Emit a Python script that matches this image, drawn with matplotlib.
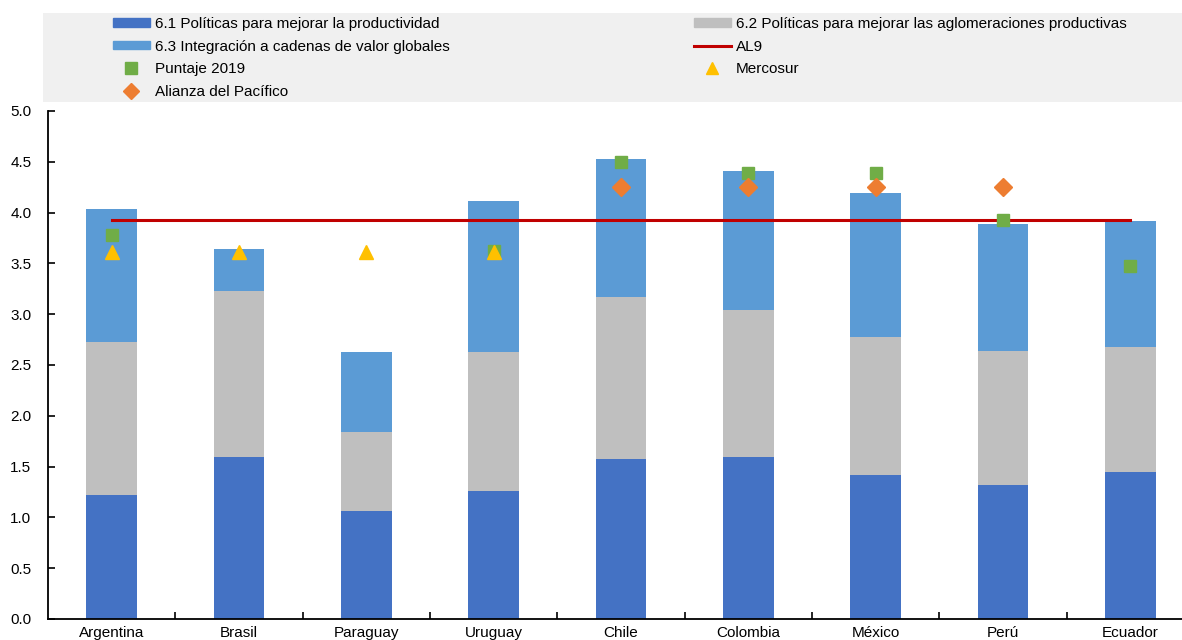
import numpy as np
import matplotlib
matplotlib.use("Agg")
import matplotlib.pyplot as plt
from matplotlib.patches import Rectangle
from matplotlib.lines import Line2D
from matplotlib.patches import Patch

plt.rcParams['font.family'] = ['Liberation Sans', 'DejaVu Sans']

countries = ["Argentina", "Brasil", "Paraguay", "Uruguay", "Chile", "Colombia", "México", "Perú", "Ecuador"]
s61 = [1.22, 1.59, 1.06, 1.26, 1.57, 1.59, 1.42, 1.32, 1.45]
s62 = [1.51, 1.64, 0.78, 1.37, 1.60, 1.45, 1.36, 1.32, 1.23]
s63 = [1.31, 0.41, 0.79, 1.48, 1.36, 1.37, 1.41, 1.25, 1.24]
puntaje2019 = [3.78, np.nan, np.nan, 3.62, 4.50, 4.39, 4.39, 3.93, 3.47]
mercosur = [3.61, 3.61, 3.61, 3.61, np.nan, np.nan, np.nan, np.nan, np.nan]
alianza = [np.nan, np.nan, np.nan, np.nan, 4.25, 4.25, 4.25, 4.25, np.nan]
al9 = [3.93] * 9

labels = ["6.1 Políticas para mejorar la productividad",
          "6.2 Políticas para mejorar las aglomeraciones productivas",
          "6.3 Integración a cadenas de valor globales",
          "AL9", "Puntaje 2019", "Mercosur", "Alianza del Pacífico"]

c61, c62, c63 = "#4472C4", "#BFBFBF", "#5B9BD5"
cgreen, corange, cyellow, cred = "#70AD47", "#ED7D31", "#FFC000", "#C00000"

fig = plt.figure(figsize=(11.82, 6.40), dpi=100)
ax = fig.add_axes([48/1182, 21/640, 1146/1182, 508/640])

x = np.arange(len(countries))
w = 0.4
b1 = np.array(s61)
b2 = b1 + np.array(s62)
ax.bar(x, s61, w, color=c61, zorder=2)
ax.bar(x, s62, w, bottom=b1, color=c62, zorder=2)
ax.bar(x, s63, w, bottom=b2, color=c63, zorder=2)
ax.plot(x, al9, color=cred, lw=2.2, zorder=3)
ax.plot(x, puntaje2019, ls='none', marker='s', ms=9, color=cgreen, zorder=4)
ax.plot(x, mercosur, ls='none', marker='^', ms=10, color=cyellow, zorder=5)
ax.plot(x, alianza, ls='none', marker='D', ms=9, color=corange, zorder=4)

ax.set_xlim(-0.5, len(countries) - 0.5)
ax.set_ylim(0, 5.0)
ax.set_yticks(np.arange(0, 5.01, 0.5))
ax.set_yticklabels([f"{v:.1f}" for v in np.arange(0, 5.01, 0.5)])
ax.set_xticks(x)
ax.set_xticklabels(countries)
ax.set_xticks(np.arange(0.5, len(countries) - 0.5, 1), minor=True)
ax.tick_params(axis='x', which='major', length=0, labelsize=11, pad=5)
ax.tick_params(axis='x', which='minor', direction='in', length=5, width=1.2)
ax.tick_params(axis='y', direction='in', length=5, width=1.2, labelsize=11, pad=12)
for s in ['top', 'right']:
    ax.spines[s].set_visible(False)
for s in ['left', 'bottom']:
    ax.spines[s].set_linewidth(1.3)
    ax.spines[s].set_color('black')

# legend background
fig.patches.append(Rectangle((43/1182, (640-102)/640), 1 - 43/1182, 89/640,
                             transform=fig.transFigure, facecolor="#F0F0F0",
                             edgecolor='none', zorder=0))

h61 = Patch(color=c61)
h62 = Patch(color=c62)
h63 = Patch(color=c63)
hal9 = Line2D([], [], color=cred, lw=2.2)
hp = Line2D([], [], ls='none', marker='s', ms=8, color=cgreen)
hm = Line2D([], [], ls='none', marker='^', ms=9, color=cyellow)
ha = Line2D([], [], ls='none', marker='D', ms=8, color=corange)

kw = dict(frameon=False, fontsize=11, handlelength=2.4, handleheight=0.45,
          handletextpad=0.35, labelspacing=0.56, borderaxespad=0, borderpad=0,
          loc='upper left')
fig.legend([h61, h63, hp, ha], [labels[0], labels[2], labels[4], labels[6]],
           bbox_to_anchor=(113/1182, 1 - 17/640), **kw)
fig.legend([h62, hal9, hm], [labels[1], labels[3], labels[5]],
           bbox_to_anchor=(694/1182, 1 - 17/640), **kw)

fig.savefig("out.png", dpi=100)
